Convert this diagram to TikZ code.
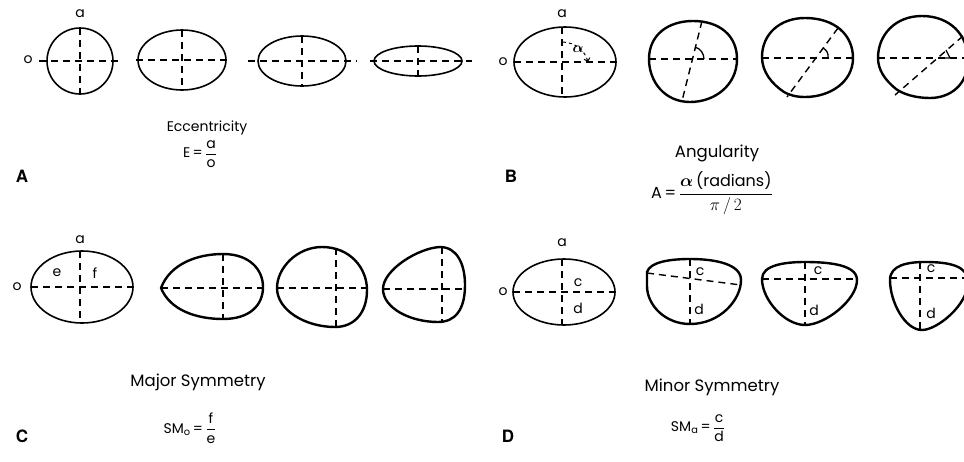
\documentclass[tikz,border=0pt]{standalone}
\usepackage{amsmath}
\usepackage{fontspec}
\setmainfont{Poppins}
\newfontfamily\panelfont{TeX Gyre Heros}
\usetikzlibrary{arrows.meta}

\begin{document}
\begin{tikzpicture}[x=1pt,y=-1pt,
		outline/.style={line width=1.6pt},
		heavy/.style={line width=2.4pt, line join=round},
		axis/.style={line width=1.4pt, dash pattern=on 7pt off 5pt},
		lbl/.style={font=\fontsize{14}{16}\selectfont, inner sep=1pt},
		form/.style={font=\fontsize{14}{16}\selectfont, inner sep=1pt},
		panel/.style={font=\panelfont\bfseries\fontsize{17}{19}\selectfont},
		title/.style={font=\fontsize{16.5}{19}\selectfont}]
		\useasboundingbox (0,0) rectangle (964,461);
		% A : eccentricity
		\draw[outline] (80,61) circle (33);
		\draw[axis] (39,61) -- (120,61);
		\draw[axis] (80,28) -- (80,94);
		\node[lbl] (aA) at (80,14) {a};
		\node[lbl] (oA) at (28,60) {o};
		\draw[outline] (182,60) ellipse (44 and 30);
		\draw[axis] (136,60) -- (228,60);
		\draw[axis] (182,30) -- (182,90);
		\draw[outline] (302,61) ellipse (44 and 25);
		\draw[axis] (248,61) -- (357,61);
		\draw[axis] (302,36) -- (302,86);
		\draw[outline] (418,61) ellipse (44 and 15);
		\draw[axis] (370,61) -- (472,61);
		\draw[axis] (418,46) -- (418,76);
		\node[font=\fontsize{14}{16}\selectfont] (eccTitle) at (207,128) {Eccentricity};
		\node[form] (eccForm) at (200,154) {E\,=\,$\dfrac{\text{a}}{\text{o}}$};
		\node[panel] (labA) at (22,176) {A};
		% B : angularity
		\draw[outline] (565,62) ellipse (51 and 35);
		\draw[axis] (514,62) -- (616,62);
		\draw[axis] (562,27) -- (562,97);
		\draw[dashed, line width=1pt, -{Straight Barb[length=3pt]}] (563,42) to[bend left=35] (588,62);
		\node[lbl] (alphaB) at (578,49) {$\boldsymbol{\alpha}$};
		\node[lbl] (aB) at (562,14) {a};
		\node[lbl] (oB) at (503,62) {o};
		\draw[heavy] (649,59) .. controls (649,35) and (668,21) .. (693,21) .. controls (720,21) and (737,36) .. (737,59) .. controls (737,85) and (715,102) .. (690,102) .. controls (665,102) and (649,82) .. (649,59) -- cycle;
		\draw[axis] (649,59) -- (737,59);
		\draw[axis] (702,21) -- (682,101);
		\draw[line width=1.3pt] (695,47) to[bend left=35] (704,59);
		\draw[heavy] (762,57) .. controls (762,34) and (780,18) .. (805,18) .. controls (835,18) and (853,35) .. (853,58) .. controls (853,82) and (830,97) .. (805,97) .. controls (796,97) and (789,95) .. (784,92) .. controls (772,84) and (762,72) .. (762,57) -- cycle;
		\draw[axis] (762,58) -- (853,58);
		\draw[axis] (838,28) -- (787,97);
		\draw[line width=1.3pt] (823,48) to[bend left=35] (828,58);
		\draw[heavy] (878,58) .. controls (878,35) and (895,16) .. (922,16) .. controls (950,16) and (968,35) .. (968,60) .. controls (968,85) and (950,98) .. (930,98) .. controls (915,98) and (903,94) .. (896,89) .. controls (885,80) and (878,70) .. (878,58) -- cycle;
		\draw[axis] (878,58) -- (964,58);
		\draw[axis] (963,36) -- (895,95);
		\draw[line width=1.3pt] (946,50) -- (950,58) -- (938,58);
		\node[title] (angTitle) at (717,153) {Angularity};
		\node[form, font=\fontsize{16}{18}\selectfont] (angForm) at (712,193) {A\,=\,$\dfrac{\boldsymbol{\alpha}\,\text{(radians)}}{\pi\,/\,2}$};
		\node[panel] (labB) at (511,176) {B};
		% C : major symmetry
		\draw[outline] (82,287) ellipse (51 and 36);
		\draw[axis] (31,287) -- (133,287);
		\draw[axis] (80,251) -- (80,323);
		\node[lbl] (aC) at (80,240) {a};
		\node[lbl] (oC) at (17,287) {o};
		\node[lbl] (eC) at (57,273) {e};
		\node[lbl] (fC) at (95,273) {f};
		\draw[heavy] (161,288) .. controls (170,264) and (197,254) .. (223,254) .. controls (250,254) and (263,270) .. (263,287) .. controls (263,305) and (250,319) .. (223,319) .. controls (196,319) and (170,310) .. (161,288) -- cycle;
		\draw[axis] (161,288) -- (263,288);
		\draw[axis] (223,254) -- (223,319);
		\draw[heavy] (277,288) .. controls (277,268) and (297,247) .. (322,247) .. controls (350,247) and (367,268) .. (367,290) .. controls (367,312) and (355,327) .. (335,327) .. controls (305,327) and (277,310) .. (277,288) -- cycle;
		\draw[axis] (277,288) -- (367,288);
		\draw[axis] (336,248) -- (336,327);
		\draw[heavy] (383,289) .. controls (383,270) and (418,248) .. (440,247) .. controls (457,247) and (465,264) .. (465,285) .. controls (465,310) and (455,322) .. (438,322) .. controls (410,322) and (383,308) .. (383,289) -- cycle;
		\draw[axis] (383,289) -- (465,289);
		\draw[axis] (442,247) -- (442,322);
		\node[title] (majTitle) at (198,382) {Major Symmetry};
		\node[form] (majForm) at (190,428) {SM$_{\text{o}}$\,=\,$\dfrac{\text{f}}{\text{e}}$};
		\node[panel] (labC) at (22,436) {C};
		% D : minor symmetry
		\draw[outline] (564,292) ellipse (51 and 33);
		\draw[axis] (513,292) -- (615,292);
		\draw[axis] (562,259) -- (562,325);
		\node[lbl] (aD) at (562,243) {a};
		\node[lbl] (oD) at (503,292) {o};
		\node[lbl] (cD) at (578,283) {c};
		\node[lbl] (dD) at (578,308) {d};
		\draw[heavy] (647,272) .. controls (650,262) and (670,259) .. (690,259) .. controls (715,259) and (741,264) .. (741,280) .. controls (741,300) and (720,324) .. (690,324) .. controls (665,324) and (647,305) .. (647,286) -- cycle;
		\draw[axis] (647,273) -- (741,285);
		\draw[axis] (690,259) -- (690,324);
		\node[lbl] (cD2) at (700,272) {c};
		\node[lbl] (dD2) at (699,309) {d};
		\draw[heavy] (762,279) .. controls (762,265) and (785,262) .. (805,262) .. controls (830,262) and (857,265) .. (857,280) .. controls (857,300) and (825,325) .. (805,325) .. controls (785,325) and (762,300) .. (762,279) -- cycle;
		\draw[axis] (762,279) -- (857,279);
		\draw[axis] (805,262) -- (805,325);
		\node[lbl] (cD3) at (818,271) {c};
		\node[lbl] (dD3) at (814,310) {d};
		\draw[heavy] (890,280) .. controls (890,265) and (908,262) .. (925,262) .. controls (950,262) and (968,266) .. (968,282) .. controls (968,305) and (937,330) .. (922,330) .. controls (905,330) and (890,302) .. (890,280) -- cycle;
		\draw[axis] (890,278) -- (964,278);
		\draw[axis] (920,262) -- (920,330);
		\node[lbl] (cD4) at (931,269) {c};
		\node[lbl] (dD4) at (931,313) {d};
		\node[title] (minTitle) at (712,387) {Minor Symmetry};
		\node[form] (minForm) at (698,428) {SM$_{\text{a}}$\,=\,$\dfrac{\text{c}}{\text{d}}$};
		\node[panel] (labD) at (508,436) {D};
	\end{tikzpicture}
\end{document}
